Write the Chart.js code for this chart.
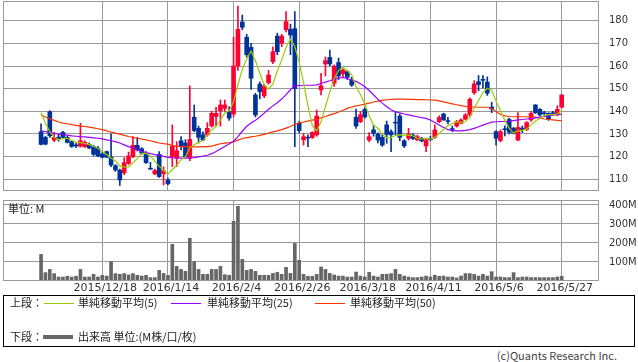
<!DOCTYPE html>
<html><head><meta charset="utf-8">
<script src="https://cdn.jsdelivr.net/npm/chart.js@4.4.0/dist/chart.umd.min.js"></script>
<style>
html,body{margin:0;padding:0;background:#fff;width:638px;height:362px;overflow:hidden;}
#wrap{position:relative;width:638px;height:362px;font-family:"Noto Sans CJK JP","DejaVu Sans",sans-serif;color:#222;}
canvas{position:absolute;left:0;}
#cp{top:0;} #cv{top:195px;}
.t{position:absolute;font-size:11px;line-height:13px;white-space:nowrap;}
.ln{position:absolute;}
#box{position:absolute;left:3px;top:295px;width:632px;height:52px;border:1px solid #000;box-sizing:border-box;}
</style></head><body>
<div id="wrap">
<canvas id="cp" width="638" height="192"></canvas>
<canvas id="cv" width="638" height="100"></canvas>
<div class="t" style="left:8px;top:202px;color:#222;">単位: M</div>
<div id="box"></div>
<div class="t" style="left:10px;top:296px;">上段：</div>
<div class="ln" style="left:44px;top:303px;width:30px;height:1px;background:#99cc00;"></div>
<div class="t" style="left:78px;top:296px;">単純移動平均(5)</div>
<div class="ln" style="left:171px;top:303px;width:30px;height:1px;background:#9900ff;"></div>
<div class="t" style="left:207px;top:296px;">単純移動平均(25)</div>
<div class="ln" style="left:315px;top:303px;width:30px;height:1px;background:#ff3300;"></div>
<div class="t" style="left:350px;top:296px;">単純移動平均(50)</div>
<div class="t" style="left:10px;top:330px;">下段：</div>
<div class="ln" style="left:43px;top:335px;width:30px;height:4px;background:#666;"></div>
<div class="t" style="left:78px;top:330px;">出来高 単位:(M株/口/枚)</div>
<div class="t" style="right:21px;top:349px;color:#444;">(c)Quants Research Inc.</div>
</div>
<script>
const dates = [
'2015/11/30','2015/12/1','2015/12/2','2015/12/3','2015/12/4','2015/12/7','2015/12/8','2015/12/9','2015/12/10','2015/12/11',
'2015/12/14','2015/12/15','2015/12/16','2015/12/17','2015/12/18','2015/12/21','2015/12/22','2015/12/24','2015/12/25','2015/12/28',
'2015/12/29','2015/12/30','2016/1/4','2016/1/5','2016/1/6','2016/1/7','2016/1/8','2016/1/12','2016/1/13','2016/1/14',
'2016/1/15','2016/1/18','2016/1/19','2016/1/20','2016/1/21','2016/1/22','2016/1/25','2016/1/26','2016/1/27','2016/1/28',
'2016/1/29','2016/2/1','2016/2/2','2016/2/3','2016/2/4','2016/2/5','2016/2/8','2016/2/9','2016/2/10','2016/2/12',
'2016/2/15','2016/2/16','2016/2/17','2016/2/18','2016/2/19','2016/2/22','2016/2/23','2016/2/24','2016/2/25','2016/2/26',
'2016/2/29','2016/3/1','2016/3/2','2016/3/3','2016/3/4','2016/3/7','2016/3/8','2016/3/9','2016/3/10','2016/3/11',
'2016/3/14','2016/3/15','2016/3/16','2016/3/17','2016/3/18','2016/3/22','2016/3/23','2016/3/24','2016/3/25','2016/3/28',
'2016/3/29','2016/3/30','2016/3/31','2016/4/1','2016/4/4','2016/4/5','2016/4/6','2016/4/7','2016/4/8','2016/4/11',
'2016/4/12','2016/4/13','2016/4/14','2016/4/15','2016/4/18','2016/4/19','2016/4/20','2016/4/21','2016/4/22','2016/4/25',
'2016/4/26','2016/4/27','2016/4/28','2016/5/2','2016/5/6','2016/5/9','2016/5/10','2016/5/11','2016/5/12','2016/5/13',
'2016/5/16','2016/5/17','2016/5/18','2016/5/19','2016/5/20','2016/5/23','2016/5/24','2016/5/25','2016/5/26','2016/5/27'];

const tickDates = ['2015/12/18','2016/1/14','2016/2/4','2016/2/26','2016/3/18','2016/4/11','2016/5/6','2016/5/27'];
const priceTicks = [110,120,130,140,150,160,170,180];
const volumeTicks = [100,200,300,400];

const open = [131,128.5,139.8,127.3,128.6,130.7,128.5,126.6,125.2,124.6,
124.4,125.4,124.4,123.7,121.2,122.2,119.8,116,114,112.9,
117,120,125,123.5,121.2,114.9,112.4,121,112.5,109.7,
120,119.3,127,126,119.3,137.4,132.5,129.6,129.6,133.5,
137.7,140.3,141.3,139.9,138.8,160,179.4,172.7,168.2,147.2,
152,146.8,152.6,161.9,173.2,170,176,176.2,176.5,134.7,
127.4,128.6,128.4,129.6,149.4,160.9,163.8,152.4,161.5,156.5,
157.5,153.8,137.4,135.4,140.9,127.3,131.8,130,128.5,134,
131,135.2,137.9,127,128.1,129.5,127.4,128.1,124.7,128.1,
128.5,135.4,138.8,135.9,132.4,133.5,134.7,136.5,138.4,148.2,
153.1,154.1,152.9,141.9,131,127.1,132.3,136.4,132.5,127.3,
132.6,132,136.2,142.8,140.9,139.4,139.1,139.4,138.4,141.8];

const high = [134.5,129,140.3,130.7,130,131.2,129,127,126,134.7,
127,126,125,124.5,122,122.5,130,116.5,114.5,119.5,
122,128.8,128.5,124,122.2,117.5,114.5,122.2,115.5,110.5,
134,126.6,128.8,127.5,151.2,142.8,133.5,131,135,140,
141.8,145,145,142,172.7,186.5,182.5,174,170,148,
153,152,158,168.5,174.5,174,184,178.5,184,135.5,
130.3,129.6,131,140.6,156.8,164,167,160.5,163.5,159,
158,155,141,140,141.5,130.6,134,130.5,130,135.7,
131.8,139.9,138.8,127.5,132.5,130.2,129.5,128.5,127.8,129,
134,138,139.2,137.3,133.5,136,136.7,139,146,153.5,
155.8,155.8,155.2,144,131.5,131.8,133.6,137,133,139.4,
133.5,135.5,140,143,141.2,140,139.4,140,142.5,147.5];

const low = [125.2,125.2,128.5,126.6,126.8,128.2,126,124.1,124,124.2,
124,123.5,120.5,120,119.5,119.5,115.6,113.5,107.3,112,
116.5,119.5,122.5,121,117,114.3,112,110.8,107.5,107.5,
115.6,115.6,123,119.7,118.2,131,126,127,129,133,
133.5,133.5,140,136,137.5,158,176,164,149.7,137.5,
145.5,146,152,161,165,168.5,175,165,124.4,130.5,
125.1,124.4,128,129,147.2,155.6,160,151,154,155,
154,151,132.5,135,137,126.6,129,126,124.5,125.9,
122.2,129.6,127,124,127.3,127.5,127,126.5,122.2,127,
128,135,136,134.5,131,133,134.5,136.3,137.5,147.5,
149,150.3,147,139.4,125.1,126.5,129.1,130,130,127,
130.6,131.5,135.5,139,138,138.4,136,138.4,138,141.5];

const close = [125.4,125.5,129.2,128.5,127.9,128.5,126.3,124.5,124.7,127,
126.3,123.8,121,120.3,119.7,119.8,116.3,114.1,109.7,117.3,
120.3,125,123,121.5,117.3,114.5,113.8,111.2,113.8,108,
124.7,122.6,124.4,120,127.6,131.5,128.5,127.3,132.5,139.1,
139.1,142.8,142.8,137,160,176.2,177.1,165,154.6,138.4,
148.7,151.2,156,166.3,166.3,173.2,179.6,173.7,150,131.5,
128.8,128.2,130.7,137.9,151.2,162.4,160.9,160,155.6,158.2,
155,151.6,133.5,138.5,137.5,128.8,130.3,127.3,125.1,129.8,
129.6,134.8,128.5,124.7,130,128,128.8,126.9,127.4,127.5,
131.8,137.3,136.2,135.5,132,135.4,136.2,138.4,145.3,152.1,
151.8,153.7,148,141,128.1,131,131.9,130.8,130.3,132.9,
132,135,139.1,139.4,138.4,139,136.5,139,140.9,147.2];

const ma5 = [139.4,134.7,131,128.5,127.5,127.9,128.1,127.1,126.4,126.2,
125.8,125.3,124.6,123.7,122.2,120.9,119.4,118,115.9,115.4,
115.5,117.3,119.1,121.4,121.4,120.3,118,115.7,114.1,112.3,
114.3,116.1,118.7,119.9,123.9,125.2,126.4,127,129.5,131.8,
133.3,136.2,139.3,140.2,144.3,151.8,158.6,163.1,166.6,162.3,
156.8,151.6,149.8,152.1,157.7,162.6,168.3,171.8,168.6,161.6,
152.7,142.4,133.8,131.4,135.4,142.1,148.6,154.5,158,159.4,
157.9,156.1,150.8,147.4,143.2,138,133.7,132.5,129.8,128.3,
128.4,129.3,129.6,129.5,129.5,129.2,128,127.7,128.2,127.7,
128.5,130.2,132,133.7,134.6,135.3,135.1,135.5,137.5,141.5,
144.8,148.3,150.2,149.3,144.5,140.4,136,132.6,130.4,131.4,
131.6,132.2,133.9,135.7,136.8,138.2,138.5,138.5,138.8,140.5];

const ma25 = [131.5,131,130.6,130.3,130,129.7,129.5,129.2,129,128.8,
128.7,128.5,128.3,128.1,127.8,127.4,127,126.6,126,125.2,
124.4,123.8,123.1,122.4,121.8,121.3,120.9,120.6,120.1,119.7,
119.5,119.4,119.3,119.3,119.4,119.6,119.9,120.2,120.6,121.3,
122.3,123.4,124.5,125.6,126.8,128.8,131.2,133.4,134.8,136,
137.5,139.2,140.9,142.4,143.8,145.4,147.4,149.5,151.2,151.4,
151.5,151.5,151.5,151.7,152.3,152.9,153.5,154.2,154.7,155,
154.5,153.8,153.2,152.2,150.8,149.2,147.3,145.3,143.6,142,
140.7,139.8,139.3,138.8,138.4,138,137.6,137.2,136.9,136.2,
135.1,134,132.9,131.9,131.6,131.4,131.4,131.6,131.9,132.5,
133.2,133.9,134.6,135.2,135.4,135.5,135.5,135.6,135.9,136.2,
136.4,136.6,136.8,137.1,137.4,137.7,138,138.3,138.6,138.8];

const ma50 = [138.4,137.5,136.7,136,135.3,134.8,134.5,134.1,133.8,133.5,
133.3,133,132.7,132.3,131.9,131.4,130.8,130.4,129.9,129.4,
128.9,128.5,128.1,127.7,127.4,127,126.5,126,125.7,125.5,
124.9,124.6,124.4,124.4,124.4,124.3,124.3,124.4,124.4,124.6,
125.2,125.7,126,126.2,126.5,127.3,128,128.4,128.7,129,
129.4,129.8,130.4,130.9,131.4,131.9,132.6,133.3,134.3,134.9,
135.3,135.7,136.1,136.5,137.1,137.7,138.4,139,139.7,140.5,
141.3,141.9,142.4,142.8,143.2,143.6,144.1,144.5,144.8,145.1,
145.3,145.4,145.4,145.4,145.3,145.3,145.2,145.2,145.1,145,
144.9,144.6,144.2,143.7,143.3,142.9,142.5,142.2,142,141.9,
141.8,141.8,141.8,141.2,139.9,138.6,138,137.7,137.6,137.6,
137.6,137.6,137.6,137.4,137,136.6,136.4,136.2,136,135.9];

const volume = [140,44,61,39,21,21,25,21,25,61,
21,21,35,21,30,26,102,39,35,39,
32,39,30,26,30,18,18,56,40,30,
193,77,61,51,225,102,61,35,35,61,
61,77,33,30,314,393,114,56,61,51,
30,30,30,40,46,35,72,40,198,109,
35,25,25,35,74,61,40,32,26,26,
21,21,47,26,21,46,26,21,35,35,
39,61,35,26,21,18,18,21,26,21,
30,25,26,21,21,16,26,39,39,35,
26,35,26,49,21,21,18,18,44,18,
21,21,18,18,18,18,18,18,21,25];

// ---------- styling / layout ----------
const UP = '#ff0033', DOWN = '#003399', GRID = '#999999';
const X_MIN = -8.70, X_MAX = 127.53;
const tickIdx = tickDates.map(d => dates.indexOf(d));
Chart.defaults.font.family = '"DejaVu Sans", sans-serif';
Chart.defaults.color = '#333';
const col = i => close[i] >= open[i] ? UP : DOWN;
const noPad = s => { s.paddingTop = 0; s.paddingBottom = 0; s.paddingLeft = 0; s.paddingRight = 0; };

const frame = {id:'frame', afterDraw(c){
  const {ctx, chartArea:a} = c; ctx.save(); ctx.strokeStyle = GRID; ctx.lineWidth = 1;
  ctx.strokeRect(Math.round(a.left)+0.5, Math.round(a.top)+0.5, Math.round(a.right-a.left)-1, Math.round(a.bottom-a.top)-1);
  ctx.restore();
}};

function xScale(showLabels){
  return {
    type:'linear', position:'bottom', min:X_MIN, max:X_MAX, offset:false,
    grid:{color:GRID, lineWidth:1, drawTicks:false, offset:false},
    border:{display:false},
    afterBuildTicks: s => { s.ticks = tickIdx.map(v => ({value:v})); },
    afterFit: s => { s.height = showLabels ? 14 : 0; noPad(s); },
    ticks: showLabels ? {display:true, autoSkip:false, maxRotation:0, padding:1, labelOffset:3,
      font:{size:11}, color:'#333', callback: v => dates[v]} : {display:false}
  };
}
function yScale(min, max, ticks, fmt){
  return {
    type:'linear', position:'right', min:min, max:max,
    grid:{color:GRID, lineWidth:1, drawTicks:false}, border:{display:false},
    afterBuildTicks: s => { s.ticks = ticks.map(v => ({value:v})); },
    afterFit: s => { s.width = 39; noPad(s); },
    ticks:{padding:10, font:{size:10}, color:'#333', callback: fmt}
  };
}

const pts = arr => arr.map((v,i) => ({x:i, y:v}));

new Chart(document.getElementById('cp'), {
  type:'bar',
  data:{datasets:[
    {type:'line', label:'MA5', data:pts(ma5), borderColor:'#99cc00', borderWidth:1.2, pointRadius:0, tension:0, order:0},
    {type:'line', label:'MA25', data:pts(ma25), borderColor:'#9900ff', borderWidth:1.2, pointRadius:0, tension:0, order:1},
    {type:'line', label:'MA50', data:pts(ma50), borderColor:'#ff3300', borderWidth:1.2, pointRadius:0, tension:0, order:2},
    {label:'body', data:open.map((o,i)=>({x:i, y:[o, close[i]]})), grouped:false, barThickness:4,
      backgroundColor: c => col(c.dataIndex), borderWidth:0, borderSkipped:false, order:3},
    {label:'wick', data:low.map((l,i)=>({x:i, y:[l, high[i]]})), grouped:false, barThickness:1,
      backgroundColor: c => col(c.dataIndex), borderWidth:0, borderSkipped:false, order:4}
  ]},
  options:{
    responsive:false, animation:false, devicePixelRatio:1,
    layout:{padding:{left:3, top:1, right:0, bottom:1}},
    plugins:{legend:{display:false}, tooltip:{enabled:false}},
    scales:{
      x: xScale(false),
      y: yScale(104.83, 188.69, priceTicks, v => String(v))
    }
  },
  plugins:[frame]
});

new Chart(document.getElementById('cv'), {
  type:'bar',
  data:{datasets:[
    {label:'volume', data:pts(volume), barThickness:3, backgroundColor:'#666666', borderWidth:0}
  ]},
  options:{
    responsive:false, animation:false, devicePixelRatio:1,
    layout:{padding:{left:3, top:5, right:0, bottom:0}},
    plugins:{legend:{display:false}, tooltip:{enabled:false}},
    scales:{
      x: xScale(true),
      y: yScale(0, 426.3, volumeTicks, v => v + 'M')
    }
  },
  plugins:[frame]
});
</script>
</body></html>
